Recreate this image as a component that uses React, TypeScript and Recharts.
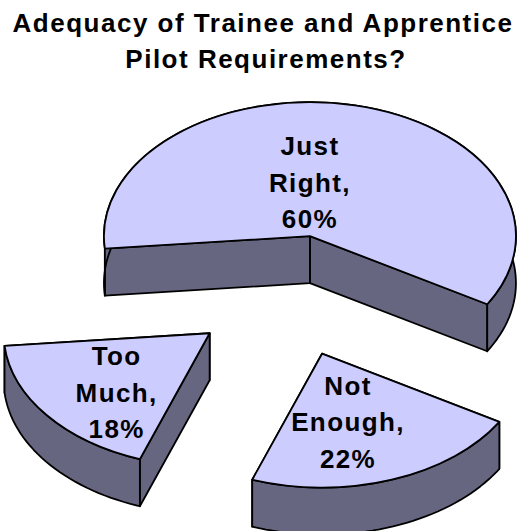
import { PieChart, Pie } from 'recharts';

const TITLE_LINES = ['Adequacy of Trainee and Apprentice', 'Pilot Requirements?'];
const CATEGORIES = ['Just Right', 'Too Much', 'Not Enough'];
const VALUES = [60, 18, 22];

const chartData = CATEGORIES.map((name, i) => ({ name, value: VALUES[i] }));

// 3D look of the pie
const SQUASH = 0.65;
const DEPTH = 47;
const EXPLODE = 96;
const TOP_FILL = '#CCCCFF';
const WALL_FILL = '#666680';
const FONT = '"Liberation Sans", Arial, sans-serif';
// small per-slice correction of the exploded position
const SLICE_NUDGE = [
  [1.5, 1],
  [-2, -1],
  [2, -1],
];
// first label baseline relative to the slice tip
const LABEL_SHIFT = [
  [0, -81],
  [-93, 32],
  [26, 41],
];

const rad = (deg: number) => (deg * Math.PI) / 180;

const sliceCentre = (props: any) => {
  const mid = (props.startAngle + props.endAngle) / 2;
  const [nx, ny] = SLICE_NUDGE[props.index];
  return {
    x: props.cx + EXPLODE * Math.cos(rad(mid)) + nx,
    y: props.cy - EXPLODE * SQUASH * Math.sin(rad(mid)) + ny,
  };
};

// Pie sector flattened to an ellipse, pulled out of the pie and given a side wall
const Slice3D = (props: any) => {
  const { outerRadius, startAngle, endAngle } = props;
  const c = sliceCentre(props);
  const at = (deg: number, drop = 0) => ({
    x: c.x + outerRadius * Math.cos(rad(deg)),
    y: c.y - outerRadius * SQUASH * Math.sin(rad(deg)) + drop,
  });
  const a = at(startAngle);
  const b = at(endAngle);

  const wall = (deg: number) => {
    const p = at(deg);
    return `M${c.x},${c.y} L${p.x},${p.y} L${p.x},${p.y + DEPTH} L${c.x},${c.y + DEPTH} Z`;
  };

  const top: string[] = [];
  const bottom: string[] = [];
  for (let d = startAngle; d < endAngle; d += 2) {
    const p = at(d);
    const q = at(d, DEPTH);
    top.push(`${p.x},${p.y}`);
    bottom.unshift(`${q.x},${q.y}`);
  }
  top.push(`${b.x},${b.y}`);
  bottom.unshift(`${b.x},${b.y + DEPTH}`);

  const large = endAngle - startAngle > 180 ? 1 : 0;
  const rx = outerRadius;
  const ry = outerRadius * SQUASH;

  return (
    <g stroke="#000" strokeWidth={1.8} strokeLinejoin="round">
      <path d={wall(startAngle)} fill={WALL_FILL} />
      <path d={wall(endAngle)} fill={WALL_FILL} />
      <path d={`M${top.join(' L')} L${bottom.join(' L')} Z`} fill={WALL_FILL} />
      <path
        d={`M${c.x},${c.y} L${a.x},${a.y} A${rx},${ry} 0 ${large} 0 ${b.x},${b.y} Z`}
        fill={TOP_FILL}
      />
    </g>
  );
};

const renderLabel = (props: any) => {
  const c = sliceCentre(props);
  const [dx, dy] = LABEL_SHIFT[props.index];
  const words = CATEGORIES[props.index].split(' ');
  const lines = [words[0], `${words[1]},`, `${VALUES[props.index]}%`];
  return (
    <text
      x={c.x + dx}
      y={c.y + dy}
      textAnchor="middle"
      fontFamily={FONT}
      fontWeight="bold"
      fontSize={26}
      letterSpacing={1.4}
      fill="#000"
    >
      {lines.map((line, i) => (
        <tspan key={line} x={c.x + dx} dy={i === 0 ? 0 : 36.5}>
          {line}
        </tspan>
      ))}
    </text>
  );
};

export default function App() {
  return (
    <div style={{ position: 'absolute', left: 0, top: 0, width: 522, height: 531, overflow: 'hidden', background: '#fff' }}>
      <PieChart width={522} height={531} margin={{ top: 0, right: 0, bottom: 0, left: 0 }}>
        <text x={263} y={32} textAnchor="middle" fontFamily={FONT} fontWeight="bold" fontSize={26} letterSpacing={1.5}>
          {TITLE_LINES[0]}
        </text>
        <text x={266} y={68} textAnchor="middle" fontFamily={FONT} fontWeight="bold" fontSize={26} letterSpacing={1.5}>
          {TITLE_LINES[1]}
        </text>
        <Pie
          data={chartData}
          dataKey="value"
          nameKey="name"
          cx={287.5}
          cy={296}
          innerRadius={0}
          outerRadius={206}
          startAngle={-30.6}
          endAngle={329.4}
          paddingAngle={0}
          shape={Slice3D}
          label={renderLabel}
          labelLine={false}
          isAnimationActive={false}
        />
      </PieChart>
    </div>
  );
}
